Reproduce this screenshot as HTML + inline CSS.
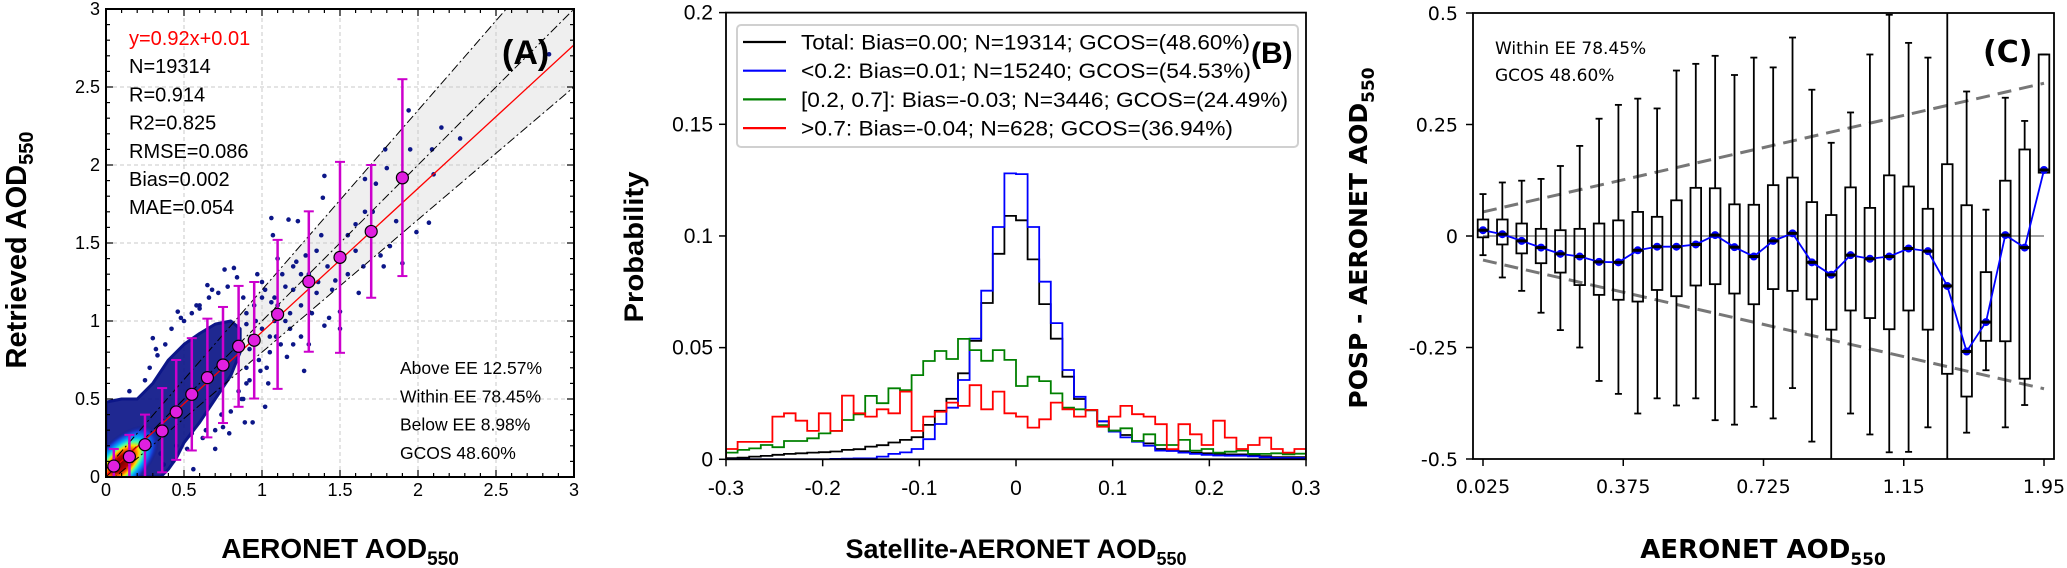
<!DOCTYPE html>
<html><head><meta charset="utf-8"><style>
html,body{margin:0;padding:0;background:#fff;}
svg{display:block;}
.la{font-family:"Liberation Sans",sans-serif;}
.lb{font-family:"Liberation Sans Narrow","Liberation Sans",sans-serif;}
.dj{font-family:"DejaVu Sans","Liberation Sans",sans-serif;}
</style></head><body>
<svg id="fig" width="2067" height="568" viewBox="0 0 2067 568" xmlns="http://www.w3.org/2000/svg">
<defs>
<clipPath id="clipA"><rect x="106" y="9" width="468" height="468"/></clipPath>
<clipPath id="clipB"><rect x="726" y="12" width="580" height="448"/></clipPath>
<clipPath id="clipC"><rect x="1473" y="13" width="581" height="446"/></clipPath>
<radialGradient id="heat" cx="0.5" cy="0.5" r="0.5">
<stop offset="0" stop-color="#7a0000"/><stop offset="0.25" stop-color="#b80000"/>
<stop offset="0.38" stop-color="#ff7000"/><stop offset="0.46" stop-color="#ffe000"/>
<stop offset="0.56" stop-color="#40ffb0"/><stop offset="0.68" stop-color="#00a8ff"/>
<stop offset="0.84" stop-color="#1840d8"/><stop offset="1" stop-color="#0c1688" stop-opacity="0"/>
</radialGradient>
</defs>
<g id="panelA"></g>
<g id="panelB"></g>
<g id="panelC"></g>
</svg>
<script>
// ---------- Panel A data ----------
const binX = [0.05,0.15,0.25,0.36,0.45,0.55,0.65,0.75,0.85,0.95,1.1,1.3,1.5,1.7,1.9];
const binMean = [0.07,0.13,0.207,0.295,0.417,0.53,0.637,0.718,0.838,0.877,1.043,1.253,1.408,1.574,1.918];
const binLo = [0,0,0,0.03,0.11,0.17,0.254,0.346,0.45,0.503,0.565,0.803,0.796,1.149,1.288];
const binHi = [0.18,0.27,0.40,0.57,0.75,0.89,1.015,1.09,1.225,1.25,1.52,1.703,2.02,2.0,2.55];
const cloudX = [0,0,0.1,0.2,0.3,0.4,0.5,0.6,0.7,0.8,0.86,0.86,0.8,0.7,0.6,0.5,0.45,0.4,0.35];
const cloudY = [0,0.48,0.5,0.5,0.6,0.75,0.85,0.92,0.98,1.0,0.95,0.8,0.65,0.5,0.35,0.22,0.12,0.05,0];
const outX = [2.84,1.94,2.15,2.27,1.95,2.09,1.79,1.8,2.1,1.66,1.4,1.73,1.39,2.07,1.99,1.86,1.6,1.66,1.71,1.82,1.76,1.78,1.5,1.5,1.43,1.4,1.27,1.16,1.23,1.17,1.06,1.07,0.82,0.76,0.65,0.46,0.3,0.94,0.89,0.79,0.7,0.56,1.02,1.35,1.42,1.55,1.6,1.2,1.25,1.3,1.1,1.2,1.05,1.15,0.9,0.95,1.0,1.1,1.35,1.45,1.65,1.7,1.55,1.38,1.25,1.3,1.2,1.9,1.62,1.47,
 0.9,0.92,0.95,0.98,1.0,1.02,1.05,1.08,0.88,0.9,0.93,0.97,1.03,1.06,1.12,1.15,1.18,0.87,0.92,0.96,1.0,1.04,1.09,1.13,0.85,0.9,0.99,1.08,0.5,0.55,0.6,0.42,0.38,0.33,0.28,0.35,0.45,0.52,0.62,0.7,0.75,0.8,0.66,0.58,0.48,0.25,0.15,0.32,0.72,0.78,0.84,0.88,0.64,0.55,0.43,0.37,0.6,0.68,0.74,1.25,1.28,1.32,1.36,1.22,1.18];
const outY = [2.71,2.35,2.24,2.17,2.1,2.1,2.1,1.98,1.94,1.91,1.93,1.88,1.79,1.63,1.57,1.64,1.62,1.7,1.7,1.48,1.42,1.35,1.06,0.95,1.02,0.97,0.68,0.77,1.64,1.65,1.66,1.55,1.34,1.33,1.23,1.06,0.89,0.35,0.35,0.28,0.18,0.05,0.45,1.45,1.35,1.3,1.45,1.2,1.1,1.3,1.1,1.35,0.9,1.0,1.05,0.9,1.15,1.4,1.18,1.2,1.35,1.55,1.55,1.55,0.9,0.85,0.85,1.37,1.18,1.26,
 0.7,0.82,1.1,0.75,0.95,1.2,0.8,1.0,1.15,0.6,0.9,1.3,0.7,1.12,0.85,1.22,1.05,0.5,0.62,1.0,1.25,0.6,0.9,1.3,0.55,0.98,0.68,1.15,1.0,1.05,1.08,0.95,0.85,0.78,0.7,0.15,0.2,0.18,0.25,0.3,0.32,0.42,1.15,1.1,1.02,0.62,0.55,0.82,1.18,1.22,1.28,0.5,0.3,0.28,0.1,0.08,1.1,1.2,0.4,1.3,1.42,1.05,1.25,1.38,0.95];
const fitSlope = 0.92, fitIntercept = 0.01;
const aTicks = [0,0.5,1,1.5,2,2.5,3];
const aTickLabels = ["0","0.5","1","1.5","2","2.5","3"];
// ---------- Panel B data ----------
const bBinStart = -0.3, bBinWidth = 0.012;
const histTotal = [0.0005,0.0007,0.0012,0.0015,0.002,0.0024,0.0027,0.003,0.0032,0.0035,0.0042,0.0045,0.0057,0.0063,0.0075,0.0087,0.0099,0.0154,0.0217,0.0271,0.0385,0.053,0.07,0.092,0.109,0.107,0.0895,0.0695,0.054,0.037,0.027,0.022,0.017,0.0128,0.0109,0.0082,0.0071,0.0046,0.004,0.0036,0.003,0.0027,0.0024,0.0022,0.0022,0.0019,0.0014,0.001,0.001,0.001];
const histLow = [0,0,0,0,0,0,0,0,0,0.0002,0.0003,0.0004,0.0004,0.0012,0.0024,0.0031,0.0046,0.009,0.0158,0.0231,0.0355,0.054,0.0755,0.104,0.128,0.1277,0.104,0.0795,0.061,0.04,0.028,0.022,0.017,0.0124,0.0098,0.0079,0.0061,0.0039,0.0037,0.003,0.0024,0.002,0.0017,0.0016,0.0016,0.0013,0.0009,0.0006,0.0006,0.0006];
const histMid = [0.003,0.0042,0.0049,0.0064,0.0054,0.0082,0.0082,0.0094,0.0116,0.0127,0.0176,0.0201,0.0284,0.0251,0.0318,0.031,0.0377,0.044,0.0485,0.0449,0.0539,0.0489,0.0441,0.0489,0.0445,0.0328,0.037,0.035,0.0295,0.0231,0.0224,0.022,0.0153,0.0128,0.0139,0.0082,0.0112,0.0064,0.0064,0.0087,0.0039,0.0046,0.003,0.0034,0.0039,0.0024,0.0024,0.0027,0.0022,0.0025];
const histHigh = [0.0046,0.0078,0.0078,0.0078,0.0191,0.0206,0.0173,0.0127,0.0206,0.0127,0.0285,0.0206,0.0191,0.0224,0.0206,0.0303,0.0127,0.0191,0.0213,0.0254,0.0239,0.0332,0.0224,0.0303,0.0206,0.0191,0.0142,0.0179,0.0254,0.0224,0.0191,0.0221,0.0146,0.0191,0.0239,0.0202,0.0191,0.0157,0.0045,0.0157,0.0112,0.0064,0.0173,0.0097,0.0046,0.0064,0.0097,0.0046,0.003,0.0046];
const legendLabels = ["Total: Bias=0.00; N=19314; GCOS=(48.60%)","<0.2: Bias=0.01; N=15240; GCOS=(54.53%)","[0.2, 0.7]: Bias=-0.03; N=3446; GCOS=(24.49%)",">0.7: Bias=-0.04; N=628; GCOS=(36.94%)"];
const bXTicks = [-0.3,-0.2,-0.1,0,0.1,0.2,0.3];
const bXTickLabels = ["-0.3","-0.2","-0.1","0","0.1","0.2","0.3"];
const bYTicks = [0,0.05,0.1,0.15,0.2];
const bYTickLabels = ["0","0.05","0.1","0.15","0.2"];
// ---------- Panel C data ----------
const whiskerHi = [0.094,0.12,0.124,0.128,0.157,0.202,0.263,0.294,0.308,0.286,0.371,0.386,0.404,0.361,0.40,0.378,0.445,0.328,0.209,0.277,0.407,0.496,0.433,0.40,0.6,0.324,0.059,0.31,0.258,0.407];
const boxHi = [0.037,0.037,0.028,0.016,0.013,0.016,0.028,0.035,0.054,0.043,0.080,0.108,0.107,0.071,0.070,0.114,0.131,0.076,0.047,0.109,0.063,0.136,0.111,0.061,0.161,0.069,-0.081,0.124,0.194,0.407];
const medians = [0.013,0.004,-0.011,-0.026,-0.040,-0.046,-0.058,-0.059,-0.032,-0.024,-0.024,-0.019,0.002,-0.025,-0.046,-0.011,0.006,-0.059,-0.087,-0.043,-0.051,-0.046,-0.028,-0.034,-0.112,-0.259,-0.193,0.002,-0.026,0.148];
const boxLo = [-0.003,-0.019,-0.039,-0.061,-0.082,-0.110,-0.132,-0.143,-0.147,-0.121,-0.135,-0.111,-0.108,-0.129,-0.153,-0.119,-0.123,-0.142,-0.210,-0.167,-0.184,-0.209,-0.167,-0.210,-0.309,-0.360,-0.235,-0.236,-0.320,0.142];
const whiskerLo = [-0.043,-0.093,-0.123,-0.172,-0.211,-0.25,-0.325,-0.354,-0.398,-0.364,-0.380,-0.364,-0.413,-0.423,-0.383,-0.409,-0.341,-0.461,-0.6,-0.398,-0.445,-0.485,-0.484,-0.429,-0.6,-0.441,-0.301,-0.429,-0.379,0.142];
const eeUpper = [0.054,0.3425];
const eeLower = [-0.054,-0.3425];
const cXTickPos = [0,7.25,14.5,21.75,29];
const cXTickLabels = ["0.025","0.375","0.725","1.15","1.95"];
const cYTicks = [-0.5,-0.25,0,0.25,0.5];
const cYTickLabels = ["-0.5","-0.25","0","0.25","0.5"];

const NS = "http://www.w3.org/2000/svg";
function mk(tag, attrs, parent){ const e=document.createElementNS(NS,tag); for(const k in attrs) e.setAttribute(k,attrs[k]); parent.appendChild(e); return e; }
function txt(parent, x, y, s, cls, size, anchor, extra){ const t=mk('text',Object.assign({x:x,y:y,'font-size':size,'text-anchor':anchor||'start','class':cls},extra||{}),parent); t.textContent=s; return t; }

// ===== Panel A =====
const A = document.getElementById('panelA');
const xA = v => 106 + v*156, yA = v => 477 - v*156;
const aClip = mk('g',{'clip-path':'url(#clipA)'},A);
const band = mk('polygon',{points:`${xA(0)},${yA(0.05)} ${xA(3)},${yA(1.15*3+0.05)} ${xA(3)},${yA(0.85*3-0.05)} ${xA(0)},${yA(-0.05)}`,fill:'#efefef'},aClip);


aTicks.slice(1,-1).forEach(t=>{
  const g1=mk('line',{x1:xA(t),x2:xA(t),y1:yA(0),y2:yA(3),stroke:'#c8c8c8','stroke-dasharray':'4 3','stroke-width':1},aClip);
  
  
  const g2=mk('line',{x1:xA(0),x2:xA(3),y1:yA(t),y2:yA(t),stroke:'#c8c8c8','stroke-dasharray':'4 3','stroke-width':1},aClip);
  
  
});
const cloud=mk('polygon',{points:cloudX.map((x,i)=>xA(x)+','+yA(cloudY[i])).join(' '),fill:'#0c1688','stroke':'#0c1688','stroke-width':3,'stroke-linejoin':'round','fill-opacity':0.92},aClip);


const heat=mk('ellipse',{cx:xA(0.1),cy:yA(0.09),rx:48,ry:24,fill:'url(#heat)',transform:`rotate(-45 ${xA(0.1)} ${yA(0.09)})`},aClip);


outX.forEach((x,i)=>{
  const d=mk('circle',{cx:xA(x),cy:yA(outY[i]),r:2.3,fill:'#0c1688'},aClip);
  
  
});
[[1.15,0.05],[1,0],[0.85,-0.05]].forEach(p=>{
  const l=mk('line',{x1:xA(0),y1:yA(p[1]),x2:xA(3),y2:yA(3*p[0]+p[1]),stroke:'#000','stroke-width':1,'stroke-dasharray':'9 3 2 3'},aClip);
  
  
});
const fit=mk('line',{x1:xA(0),y1:yA(fitIntercept),x2:xA(3),y2:yA(3*fitSlope+fitIntercept),stroke:'#ff0000','stroke-width':1.3},aClip);


binX.forEach((x,i)=>{
  const g=mk('g',{},aClip);
  
  
  mk('line',{x1:xA(x),x2:xA(x),y1:yA(binLo[i]),y2:yA(binHi[i]),stroke:'#cc00cc','stroke-width':2.5},g);
  mk('line',{x1:xA(x)-5,x2:xA(x)+5,y1:yA(binLo[i]),y2:yA(binLo[i]),stroke:'#cc00cc','stroke-width':2},g);
  mk('line',{x1:xA(x)-5,x2:xA(x)+5,y1:yA(binHi[i]),y2:yA(binHi[i]),stroke:'#cc00cc','stroke-width':2},g);
  const m=mk('circle',{cx:xA(x),cy:yA(binMean[i]),r:6,fill:'#e020e0',stroke:'#000','stroke-width':1.2},g);
  
  
});
for(let k=0;k<=30;k++){
  const v=k*0.1, major=(k%5===0), L=major?7:4;
  mk('line',{x1:xA(v),x2:xA(v),y1:yA(0),y2:yA(0)-L,stroke:'#000','stroke-width':1.2},A);
  mk('line',{x1:xA(v),x2:xA(v),y1:yA(3),y2:yA(3)+L,stroke:'#000','stroke-width':1.2},A);
  mk('line',{x1:xA(0),x2:xA(0)+L,y1:yA(v),y2:yA(v),stroke:'#000','stroke-width':1.2},A);
  mk('line',{x1:xA(3),x2:xA(3)-L,y1:yA(v),y2:yA(v),stroke:'#000','stroke-width':1.2},A);
}
const frA=mk('rect',{x:106,y:9,width:468,height:468,fill:'none',stroke:'#000','stroke-width':2},A);


aTicks.forEach((t,i)=>{
  const a=txt(A,xA(t),496,aTickLabels[i],'la',18,'middle');
  
  
  const b=txt(A,100,yA(t)+6,aTickLabels[i],'la',18,'end');
  
  
});
</script>
<script>
(function(){
const A=document.getElementById('panelA');
const stats=[["y=0.92x+0.01","#ff0000"],["N=19314","#000"],["R=0.914","#000"],["R2=0.825","#000"],["RMSE=0.086","#000"],["Bias=0.002","#000"],["MAE=0.054","#000"]];
stats.forEach((s,i)=>{
  const t=txt(A,129,45+i*28.2,s[0],'la',20,'start',{fill:s[1]});
  
  
});
["Above EE 12.57%","Within EE 78.45%","Below EE 8.98%","GCOS 48.60%"].forEach((s,i)=>{
  const t=txt(A,400,374+i*28.3,s,'la',17.5,'start');
  
  
});
const pa=txt(A,502,64,"(A)",'la',34,'start',{'font-weight':'bold'});


const xl=mk('text',{x:340,y:558,'font-size':28,'font-weight':'bold','text-anchor':'middle','class':'la'},A);
xl.innerHTML='AERONET AOD<tspan font-size="19" dy="7">550</tspan>';


const yl=mk('text',{x:0,y:0,'font-size':29,'font-weight':'bold','text-anchor':'middle','class':'la',transform:'translate(26,250) rotate(-90)'},A);
yl.innerHTML='Retrieved AOD<tspan font-size="20" dy="7">550</tspan>';


})();
</script>
<script>
(function(){
const B=document.getElementById('panelB');
const xB=v=>726+(v+0.3)*966.7, yB=v=>459.3-v*2233.4;
const bClip=mk('g',{'clip-path':'url(#clipB)'},B);
const series=[[histTotal,'#000000','hist-total'],[histLow,'#0000ff','hist-low-aod'],[histMid,'#008000','hist-mid-aod'],[histHigh,'#ff0000','hist-high-aod']];
series.forEach(s=>{
  let d=`M${xB(bBinStart)},${yB(0)}`;
  s[0].forEach((v,k)=>{ d+=` V${yB(v).toFixed(1)} H${xB(bBinStart+(k+1)*bBinWidth).toFixed(1)}`; });
  d+=` V${yB(0)}`;
  const p=mk('path',{d:d,fill:'none',stroke:s[1],'stroke-width':1.8},bClip);
  
  
});
const frB=mk('rect',{x:726,y:yB(0.2),width:580,height:yB(0)-yB(0.2),fill:'none',stroke:'#000','stroke-width':1.8},B);


bXTicks.forEach((t,i)=>{
  mk('line',{x1:xB(t),x2:xB(t),y1:yB(0),y2:yB(0)+7,stroke:'#000','stroke-width':1.5},B);
  const a=txt(B,xB(t),495,bXTickLabels[i],'lb',21,'middle');
  
  
});
bYTicks.forEach((t,i)=>{
  mk('line',{x1:726,x2:719,y1:yB(t),y2:yB(t),stroke:'#000','stroke-width':1.5},B);
  const a=txt(B,713,yB(t)+7,bYTickLabels[i],'lb',21,'end');
  
  
});
const lg=mk('g',{},B);


mk('rect',{x:737,y:25,width:561,height:122,rx:4,fill:'#fff','fill-opacity':0.85,stroke:'#d0d0d0','stroke-width':2},lg);
const lens=[449,450,487,432];
legendLabels.forEach((s,i)=>{
  const y=42+i*28.7;
  const ln=mk('line',{x1:743,x2:786,y1:y,y2:y,stroke:series[i][1],'stroke-width':2.2},lg);
  
  
  const t=txt(lg,801,y+7.5,s,'lb',21,'start',{textLength:lens[i],lengthAdjust:'spacingAndGlyphs'});
  
  
});
const pb=txt(B,1251,63,"(B)",'lb',30,'start',{'font-weight':'bold'});


const xl=mk('text',{x:1016,y:558,'font-size':27,'font-weight':'bold','text-anchor':'middle','class':'lb'},B);
xl.innerHTML='Satellite-AERONET AOD<tspan font-size="18" dy="7">550</tspan>';


const yl=txt(B,0,0,'Probability','lb',27,'middle',{'font-weight':'bold',transform:'translate(643,247) rotate(-90)',textLength:151,lengthAdjust:'spacingAndGlyphs'});


})();
</script>
<script>
(function(){
const C=document.getElementById('panelC');
const xC=i=>1483+i*19.345, yC=v=>236-v*446;
const cClip=mk('g',{'clip-path':'url(#clipC)'},C);
const zl=mk('line',{x1:xC(0),x2:xC(29),y1:yC(0),y2:yC(0),stroke:'#808080','stroke-width':1.5},cClip);


const eu=mk('line',{x1:xC(0),x2:xC(29),y1:yC(eeUpper[0]),y2:yC(eeUpper[1]),stroke:'#777','stroke-width':3,'stroke-dasharray':'14 8'},cClip);


const el=mk('line',{x1:xC(0),x2:xC(29),y1:yC(eeLower[0]),y2:yC(eeLower[1]),stroke:'#777','stroke-width':3,'stroke-dasharray':'14 8'},cClip);


medians.forEach((m,i)=>{
  const g=mk('g',{},cClip);
  
  
  const x=xC(i);
  mk('line',{x1:x,x2:x,y1:yC(whiskerHi[i]),y2:yC(boxHi[i]),stroke:'#000','stroke-width':1.8},g);
  mk('line',{x1:x,x2:x,y1:yC(boxLo[i]),y2:yC(whiskerLo[i]),stroke:'#000','stroke-width':1.8},g);
  mk('line',{x1:x-3.5,x2:x+3.5,y1:yC(whiskerHi[i]),y2:yC(whiskerHi[i]),stroke:'#000','stroke-width':1.8},g);
  mk('line',{x1:x-3.5,x2:x+3.5,y1:yC(whiskerLo[i]),y2:yC(whiskerLo[i]),stroke:'#000','stroke-width':1.8},g);
  mk('rect',{x:x-5.3,y:yC(boxHi[i]),width:10.6,height:Math.max(1,yC(boxLo[i])-yC(boxHi[i])),fill:'none',stroke:'#000','stroke-width':1.8},g);
});
const ml=mk('polyline',{points:medians.map((m,i)=>xC(i)+','+yC(m)).join(' '),fill:'none',stroke:'#0000ff','stroke-width':1.8},cClip);


medians.forEach((m,i)=>{
  const d=mk('circle',{cx:xC(i),cy:yC(m),r:4,fill:'#0000ff'},cClip);
  
  
  mk('line',{x1:xC(i)-5.3,x2:xC(i)+5.3,y1:yC(m),y2:yC(m),stroke:'#000','stroke-width':3},cClip);
});
const frC=mk('rect',{x:1473,y:yC(0.5),width:581,height:yC(-0.5)-yC(0.5),fill:'none',stroke:'#000','stroke-width':1.8},C);


cXTickPos.forEach((p,i)=>{
  mk('line',{x1:xC(p),x2:xC(p),y1:459,y2:466,stroke:'#000','stroke-width':1.5},C);
  const a=txt(C,xC(p),493,cXTickLabels[i],'dj',19,'middle');
  
  
});
cYTicks.forEach((t,i)=>{
  mk('line',{x1:1473,x2:1466,y1:yC(t),y2:yC(t),stroke:'#000','stroke-width':1.5},C);
  const a=txt(C,1458,yC(t)+7,cYTickLabels[i],'dj',19,'end');
  
  
});
const t1=txt(C,1495,54,'Within EE 78.45%','dj',17,'start');


const t2=txt(C,1495,81,'GCOS 48.60%','dj',17,'start');


const pc=txt(C,1983,62,"(C)",'dj',30,'start',{'font-weight':'bold'});


const xl=mk('text',{x:1763,y:558,'font-size':26,'font-weight':'bold','text-anchor':'middle','class':'dj'},C);
xl.innerHTML='AERONET AOD<tspan font-size="17" dy="7">550</tspan>';


const yl=mk('text',{x:0,y:0,'font-size':25,'font-weight':'bold','text-anchor':'middle','class':'dj',transform:'translate(1367,238) rotate(-90)'},C);
yl.innerHTML='POSP - AERONET AOD<tspan font-size="17" dy="7">550</tspan>';


})();
</script>
</body></html>
